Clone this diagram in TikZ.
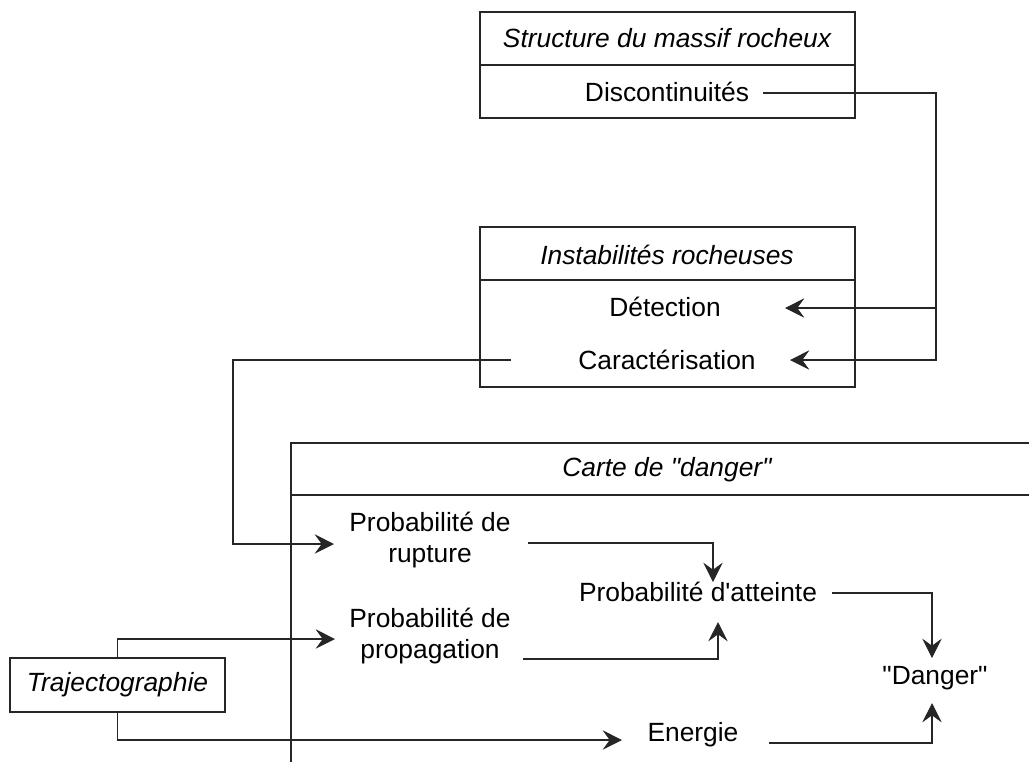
\documentclass[tikz,border=0pt]{standalone}
\usepackage{fontspec}
\setmainfont{Liberation Sans}[Ligatures=TeXOff]
\usetikzlibrary{calc,arrows.meta}

\begin{document}
\begin{tikzpicture}[x=0.02cm,y=-0.02cm,
frame/.style={draw=black!85, line width=0.8pt},
txt/.style={inner sep=0pt, align=center, font=\fontsize{15}{17.6}\selectfont},
head/.style={txt, font=\fontsize{15}{17.6}\selectfont\itshape},
link/.style={draw=black!85, line width=0.65pt, -{Stealth[length=11pt,width=11pt,inset=4pt]}},
pt/.style={inner sep=0pt}]

\useasboundingbox (0,0) rectangle (1029,762);

%% the frames
\draw[frame] (480,12) rectangle (855,118);
\draw[frame] (480,65) -- (855,65);
\draw[frame] (480,227) rectangle (855,387);
\draw[frame] (480,280) -- (855,280);
\draw[frame] (1029,443) -- (291,443) -- (291,762);
\draw[frame] (291,495) -- (1029,495);

%% titles and items
\node[head] (struct) at (667,38) {Structure du massif rocheux};
\node[txt] (disc) at (667,92) {Discontinuités};
\node[head] (inst) at (667,255) {Instabilités rocheuses};
\node[txt] (det) at (665,307) {Détection};
\node[txt] (car) at (667,360) {Caractérisation};
\node[head] (carte) at (667,470) {Carte de "danger"};
\node[txt] (rupt) at (430,540) {Probabilité de\\rupture};
\node[txt] (prop) at (430,636) {Probabilité de\\propagation};
\node[txt] (att) at (698,592) {Probabilité d'atteinte};
\node[txt] (dang) at (935,678) {"Danger"};
\node[txt] (ener) at (693,735) {Energie};
\node[head, frame, inner sep=0pt, minimum width=4.3cm, minimum height=1.08cm] (traj) at (117.5,685) {Trajectographie};

%% free ends of the connectors
\coordinate (disc-out) at (763,93);
\coordinate (trunk) at (936,308);
\coordinate (det-in) at (785,308);
\coordinate (car-in) at (790,360);
\coordinate (car-out) at (511,360);
\coordinate (bend) at (233,360);
\coordinate (rupt-in) at (334,544);
\coordinate (rupt-out) at (528,543);
\coordinate (att-in1) at (713,582);
\coordinate (prop-in) at (335,639);
\coordinate (prop-out) at (523,659);
\coordinate (att-in2) at (718,622);
\coordinate (att-out) at (832,593);
\coordinate (dang-in1) at (932,658);
\coordinate (ener-in) at (622,740);
\coordinate (ener-out) at (769,743);
\coordinate (dang-in2) at (932,703);

%% connectors
\draw[link] (disc-out) -| (trunk) -- (det-in);
\draw[link] (trunk) |- (car-in);
\draw[link] (car-out) -- (bend) |- (rupt-in);
\draw[link] (rupt-out) -| (att-in1);
\draw[link] (prop-out) -| (att-in2);
\draw[link] (att-out) -| (dang-in1);
\draw[link] (ener-out) -| (dang-in2);
\draw[link] (traj.north) |- (prop-in);
\draw[link] (traj.south) |- (ener-in);

\end{tikzpicture}
\end{document}
